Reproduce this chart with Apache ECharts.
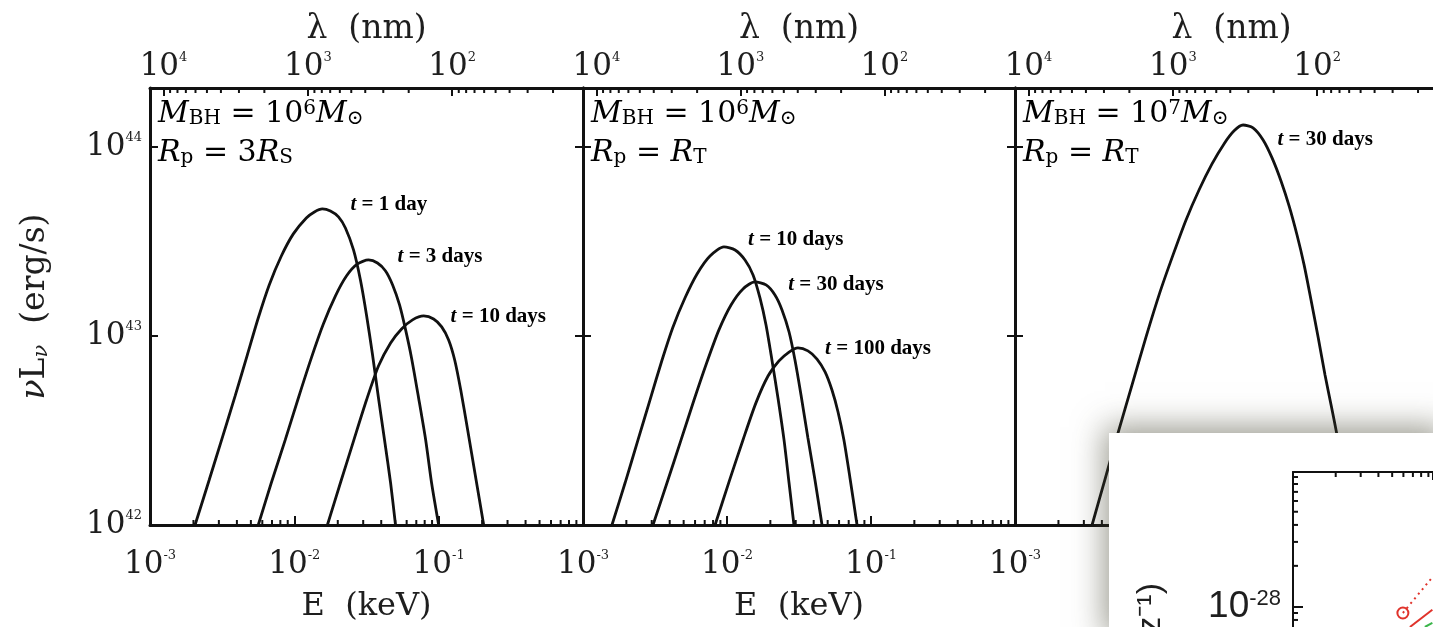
<!DOCTYPE html>
<html><head><meta charset="utf-8">
<script src="https://cdn.jsdelivr.net/npm/echarts@6/dist/echarts.min.js"></script>
<style>html,body{margin:0;padding:0;background:#fff}#c{width:1433px;height:627px}</style>
</head><body><div id="c"></div>
<script>
// ---------------- data (stored as log10) ----------------
const E_MIN = 1e-3, E_MAX = 1;          // keV (bottom axis)
const L_MIN = 1e42, L_MAX = 2.05e44;    // erg/s (left axis)
const HC = 12.4;                        // top-axis value = HC / E
const MANTISSAS = [2, 3, 4, 5, 6, 7, 8, 9];
const E_DECADES = [1e-3, 1e-2, 1e-1];
const LAMBDA_DECADES = [10, 100, 1000];

// panel 1: M_BH = 1e6 Msun, Rp = 3 Rs   ([log10 E(keV), log10 nuL_nu(erg/s)])
const p1_t1 = [[-2.688,42.000],[-2.590,42.238],[-2.500,42.460],[-2.410,42.683],[-2.326,42.899],[-2.250,43.095],[-2.174,43.270],[-2.090,43.423],[-2.007,43.540],[-1.917,43.624],[-1.861,43.656],[-1.806,43.672],[-1.750,43.661],[-1.694,43.630],[-1.646,43.571],[-1.590,43.455],[-1.542,43.296],[-1.500,43.111],[-1.458,42.899],[-1.417,42.672],[-1.375,42.450],[-1.333,42.222],[-1.299,42.000]];
const p1_t3 = [[-2.250,42.000],[-2.160,42.222],[-2.063,42.450],[-1.972,42.672],[-1.882,42.884],[-1.799,43.063],[-1.715,43.212],[-1.639,43.317],[-1.563,43.381],[-1.486,43.402],[-1.424,43.386],[-1.368,43.344],[-1.319,43.270],[-1.271,43.164],[-1.229,43.032],[-1.188,42.884],[-1.139,42.672],[-1.090,42.450],[-1.049,42.222],[-1.000,42.000]];
const p1_t10 = [[-1.771,42.000],[-1.681,42.222],[-1.590,42.444],[-1.500,42.661],[-1.417,42.841],[-1.333,42.963],[-1.257,43.037],[-1.181,43.085],[-1.104,43.106],[-1.035,43.090],[-0.979,43.048],[-0.931,42.979],[-0.889,42.873],[-0.847,42.714],[-0.799,42.503],[-0.743,42.249],[-0.688,42.000]];
// panel 2: M_BH = 1e6 Msun, Rp = RT
const p2_t10 = [[-2.799,42.000],[-2.708,42.222],[-2.618,42.450],[-2.535,42.661],[-2.451,42.873],[-2.375,43.048],[-2.292,43.201],[-2.208,43.328],[-2.118,43.423],[-2.021,43.471],[-1.944,43.455],[-1.875,43.402],[-1.819,43.323],[-1.771,43.201],[-1.729,43.058],[-1.688,42.873],[-1.646,42.672],[-1.604,42.450],[-1.569,42.222],[-1.535,42.000]];
const p2_t30 = [[-2.514,42.000],[-2.417,42.222],[-2.319,42.450],[-2.229,42.661],[-2.139,42.862],[-2.056,43.032],[-1.972,43.164],[-1.889,43.249],[-1.806,43.286],[-1.729,43.270],[-1.667,43.217],[-1.618,43.138],[-1.569,43.021],[-1.528,42.873],[-1.486,42.688],[-1.438,42.460],[-1.389,42.238],[-1.340,42.000]];
const p2_t100 = [[-2.083,42.000],[-1.986,42.228],[-1.889,42.450],[-1.799,42.646],[-1.715,42.788],[-1.639,42.868],[-1.569,42.915],[-1.507,42.937],[-1.438,42.921],[-1.375,42.878],[-1.319,42.810],[-1.271,42.714],[-1.229,42.598],[-1.188,42.450],[-1.146,42.249],[-1.097,42.000]];
// panel 3: M_BH = 1e7 Msun, Rp = RT
const p3_t30 = [[-2.466,42.000],[-2.376,42.243],[-2.286,42.487],[-2.189,42.741],[-2.092,42.995],[-1.995,43.233],[-1.905,43.429],[-1.815,43.614],[-1.725,43.772],[-1.635,43.910],[-1.552,44.016],[-1.482,44.085],[-1.420,44.116],[-1.351,44.101],[-1.281,44.037],[-1.219,43.942],[-1.157,43.820],[-1.101,43.688],[-1.046,43.534],[-0.997,43.376],[-0.949,43.190],[-0.900,42.995],[-0.852,42.794],[-0.810,42.635],[-0.769,42.476],[-0.727,42.291],[-0.678,42.079],[-0.658,42.000]];

const PANEL_CURVES = [[p1_t1, p1_t3, p1_t10], [p2_t10, p2_t30, p2_t100], [p3_t30]];
const PANEL_LABELS = [
  [['t = 1 day', 0.0245, 4.93e43], ['t = 3 days', 0.0519, 2.62e43], ['t = 10 days', 0.121, 1.26e43]],
  [['t = 10 days', 0.0140, 3.22e43], ['t = 30 days', 0.0266, 1.86e43], ['t = 100 days', 0.048, 8.54e42]],
  [['t = 30 days', 0.0659, 1.09e44]]
];
const PANEL_MASS_EXP = ['6', '6', '7'];
const PANEL_RP = [['3', 'S'], ['', 'T'], ['', 'T']];

// inset (fragment of another figure pasted over the corner)
const INSET_X_MIN = 1, INSET_X_MAX = 9.7;
const INSET_Y_MIN = 7.1e-29, INSET_Y_MAX = 9.8e-28;
const inset_dotted = [[5.95, 9.0e-29], [9.6, 1.65e-28]];
const inset_solid = [[6.67, 7.1e-29], [9.6, 9.5e-29]];
const inset_green = [[8.5, 7.1e-29], [9.6, 7.6e-29]];
const inset_marker = [[5.95, 9.0e-29]];
const INSET_Y_MINOR = [8e-29, 9e-29, 2e-28, 3e-28, 4e-28, 5e-28, 6e-28, 7e-28, 8e-28, 9e-28];

// ---------------- layout / style ----------------
const PANEL_LEFT = [150, 583, 1015];
const PANEL_WIDTH = [433, 432, 433];
const PANEL_TOP = 88, PANEL_HEIGHT = 437;
const LINE = '#111', TXT = '#1e1e1e';
const SERIF = 'DejaVu Serif';
const fromLog = arr => arr.map(p => [Math.pow(10, p[0]), Math.pow(10, p[1])]);

const TICK_RICH = {
  b: { fontFamily: SERIF, fontSize: 31, color: TXT },
  s: { fontFamily: SERIF, fontSize: 13, color: TXT, verticalAlign: 'top' }
};
function decadeLabel(v) {
  const e = Math.log10(v), r = Math.round(e);
  if (Math.abs(e - r) > 1e-6) return '';
  return '{b|10}{s|' + r + '}';
}
const MINOR_E = E_DECADES.flatMap(d => MANTISSAS.map(m => m * d));
const MINOR_LAMBDA = LAMBDA_DECADES.flatMap(d => MANTISSAS.map(m => m * d));

function tickRenderer(len, dir) {
  return function (params, api) {
    const p = api.coord([api.value(0), api.value(1)]);
    return { type: 'line', shape: { x1: p[0], y1: p[1], x2: p[0], y2: p[1] + dir * len },
      style: { stroke: LINE, lineWidth: 2 } };
  };
}
function hTickRenderer(len) {
  return function (params, api) {
    const p = api.coord([api.value(0), api.value(1)]);
    return { type: 'line', shape: { x1: p[0], y1: p[1], x2: p[0] + len, y2: p[1] },
      style: { stroke: LINE, lineWidth: 2 } };
  };
}

const grid = [], xAxis = [], yAxis = [], series = [], graphic = [];
const axisLineStyle = { show: true, onZero: false, lineStyle: { color: LINE, width: 3 } };

for (let i = 0; i < 3; i++) {
  grid.push({ left: PANEL_LEFT[i], top: PANEL_TOP, width: PANEL_WIDTH[i], height: PANEL_HEIGHT,
    outerBoundsMode: 'none', containLabel: false });
  xAxis.push({
    type: 'log', gridIndex: i, position: 'bottom', min: E_MIN, max: E_MAX,
    name: 'E  (keV)', nameLocation: 'middle', nameGap: 66,
    nameTextStyle: { fontFamily: SERIF, fontSize: 32, color: TXT },
    axisLine: axisLineStyle,
    axisTick: { show: true, inside: true, length: 9, lineStyle: { color: LINE, width: 2 } },
    axisLabel: { show: true, margin: 24, formatter: decadeLabel, rich: TICK_RICH, showMaxLabel: false },
    splitLine: { show: false }
  });
  xAxis.push({
    type: 'log', gridIndex: i, position: 'top', inverse: true, min: HC / E_MAX, max: HC / E_MIN,
    name: 'λ  (nm)', nameLocation: 'middle', nameGap: 39,
    nameTextStyle: { fontFamily: SERIF, fontSize: 33, color: TXT },
    axisLine: axisLineStyle,
    axisTick: { show: true, inside: true, length: 8, lineStyle: { color: LINE, width: 2 } },
    axisLabel: { show: true, margin: 6, formatter: decadeLabel, rich: TICK_RICH, showMaxLabel: false, showMinLabel: false },
    splitLine: { show: false }
  });
  yAxis.push({
    type: 'log', gridIndex: i, position: 'left', min: L_MIN, max: L_MAX,
    name: i === 0 ? '{i|ν}{n|L}{sub|ν}{n|  (erg/s)}' : '', nameLocation: 'middle', nameGap: 98,
    nameTextStyle: { color: TXT, rich: {
      i: { fontFamily: SERIF, fontStyle: 'italic', fontSize: 33, color: TXT },
      n: { fontFamily: SERIF, fontSize: 33, color: TXT },
      sub: { fontFamily: SERIF, fontStyle: 'italic', fontSize: 21, color: TXT, verticalAlign: 'bottom' } } },
    axisLine: axisLineStyle,
    axisTick: { show: true, inside: true, length: 8, lineStyle: { color: LINE, width: 2 } },
    axisLabel: { show: i === 0, margin: 8, formatter: decadeLabel, rich: TICK_RICH, showMaxLabel: false },
    splitLine: { show: false }
  });
  yAxis.push({
    type: 'log', gridIndex: i, position: 'right', min: L_MIN, max: L_MAX,
    axisLine: axisLineStyle,
    axisTick: { show: true, inside: true, length: 8, lineStyle: { color: LINE, width: 2 } },
    axisLabel: { show: false }, splitLine: { show: false }
  });

  PANEL_CURVES[i].forEach(c => series.push({
    type: 'line', xAxisIndex: 2 * i, yAxisIndex: 2 * i, data: fromLog(c), showSymbol: false, symbol: 'none',
    smooth: 0.25, lineStyle: { color: LINE, width: 2.8 }, clip: true, z: 3, silent: true
  }));
  series.push({
    type: 'scatter', xAxisIndex: 2 * i, yAxisIndex: 2 * i, symbolSize: 0, z: 4, silent: true,
    itemStyle: { opacity: 1 },
    data: PANEL_LABELS[i].map(l => ({ value: [l[1], l[2]], name: l[0] })),
    label: { show: true, position: 'right', distance: 0, opacity: 1, color: '#000', textBorderWidth: 0,
      formatter: p => '{i|t}{n|' + p.name.slice(1) + '}',
      rich: {
        i: { fontFamily: 'Liberation Serif', fontStyle: 'italic', fontWeight: 'bold', fontSize: 21, color: '#000' },
        n: { fontFamily: 'Liberation Serif', fontWeight: 'bold', fontSize: 21, color: '#000' } } }
  });
  series.push({ type: 'custom', xAxisIndex: 2 * i, yAxisIndex: 2 * i, silent: true, z: 5,
    data: MINOR_E.map(v => [v, L_MIN]), renderItem: tickRenderer(5, -1) });
  series.push({ type: 'custom', xAxisIndex: 2 * i + 1, yAxisIndex: 2 * i, silent: true, z: 5,
    data: MINOR_LAMBDA.map(v => [v, L_MAX]), renderItem: tickRenderer(5, 1) });

  const mathRich = {
    i: { fontFamily: SERIF, fontStyle: 'italic', fontSize: 30, color: TXT },
    n: { fontFamily: SERIF, fontSize: 30, color: TXT },
    sub: { fontFamily: SERIF, fontSize: 20, color: TXT, verticalAlign: 'bottom' },
    sup: { fontFamily: SERIF, fontSize: 20, color: TXT, verticalAlign: 'top' }
  };
  graphic.push({ type: 'text', x: PANEL_LEFT[i] + 8, y: 99, z: 6, silent: true,
    style: { text: '{i|M}{sub|BH}{n| = 10}{sup|' + PANEL_MASS_EXP[i] + '}{i|M}{sub|⊙}', rich: mathRich } });
  graphic.push({ type: 'text', x: PANEL_LEFT[i] + 8, y: 138, z: 6, silent: true,
    style: { text: '{i|R}{sub|p}{n| = ' + PANEL_RP[i][0] + '}{i|R}{sub|' + PANEL_RP[i][1] + '}', rich: mathRich } });
}

// ---------- inset ----------
graphic.push({ type: 'rect', z: 50, silent: true,
  shape: { x: 1109, y: 433, width: 340, height: 210 },
  style: { fill: '#fff', shadowBlur: 30, shadowColor: 'rgba(70,70,50,0.55)', shadowOffsetX: -4, shadowOffsetY: -6 } });
graphic.push({ type: 'text', x: 1168, y: 583, rotation: Math.PI / 2, z: 60, silent: true,
  style: { text: '(Hz⁻¹)', font: '34px "Liberation Sans"', fill: TXT, align: 'right', verticalAlign: 'bottom' } });

grid.push({ left: 1293, top: 472, right: 0, height: 155, outerBoundsMode: 'none', containLabel: false });
xAxis.push({ type: 'log', gridIndex: 3, position: 'top', min: INSET_X_MIN, max: INSET_X_MAX, z: 60,
  axisLine: { show: true, onZero: false, lineStyle: { color: LINE, width: 2 } },
  axisTick: { show: true, inside: true, length: 8, lineStyle: { color: LINE, width: 2 } },
  axisLabel: { show: false }, splitLine: { show: false } });
yAxis.push({ type: 'log', gridIndex: 3, position: 'left', min: INSET_Y_MIN, max: INSET_Y_MAX, z: 60,
  axisLine: { show: true, onZero: false, lineStyle: { color: LINE, width: 2 } },
  axisTick: { show: true, inside: true, length: 10, lineStyle: { color: LINE, width: 2 } },
  axisLabel: { show: true, margin: 12, formatter: decadeLabel, showMaxLabel: false, showMinLabel: false,
    rich: { b: { fontFamily: 'Liberation Sans', fontSize: 37, color: TXT },
            s: { fontFamily: 'Liberation Sans', fontSize: 22, color: TXT, verticalAlign: 'top' } } },
  splitLine: { show: false } });
series.push({ type: 'custom', xAxisIndex: 6, yAxisIndex: 6, silent: true, z: 60,
  data: MANTISSAS.map(m => [m, INSET_Y_MAX]), renderItem: tickRenderer(5, 1) });
series.push({ type: 'custom', xAxisIndex: 6, yAxisIndex: 6, silent: true, z: 60,
  data: INSET_Y_MINOR.map(v => [INSET_X_MIN, v]), renderItem: hTickRenderer(5) });
series.push({ type: 'line', xAxisIndex: 6, yAxisIndex: 6, data: inset_dotted, showSymbol: false, z: 60, silent: true,
  lineStyle: { color: '#e0332b', width: 2, type: [2, 4] } });
series.push({ type: 'line', xAxisIndex: 6, yAxisIndex: 6, data: inset_solid, showSymbol: false, z: 60, silent: true,
  lineStyle: { color: '#e0332b', width: 2 } });
series.push({ type: 'line', xAxisIndex: 6, yAxisIndex: 6, data: inset_green, showSymbol: false, z: 60, silent: true,
  lineStyle: { color: '#3bb54a', width: 2 } });
series.push({ type: 'scatter', xAxisIndex: 6, yAxisIndex: 6, data: inset_marker, z: 61, silent: true,
  symbol: 'circle', symbolSize: 11, itemStyle: { color: 'rgba(255,255,255,0)', borderColor: '#e0332b', borderWidth: 2, opacity: 1 } });

const chart = echarts.init(document.getElementById('c'), null, { renderer: 'canvas' });
chart.setOption({ animation: false, backgroundColor: '#fff', grid, xAxis, yAxis, series, graphic });
</script>
</body></html>
